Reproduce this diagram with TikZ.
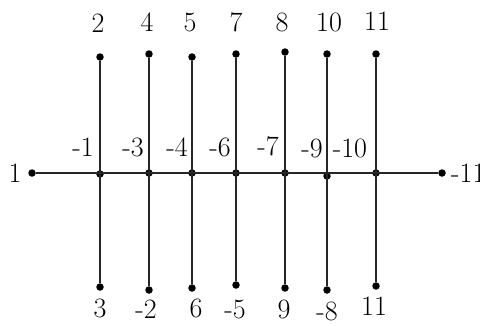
\documentclass[tikz,border=0pt]{standalone}
\begin{document}
\begin{tikzpicture}[x=1pt,y=-1pt,
  dot/.style={circle,fill=black,inner sep=0pt,minimum size=7.5pt},
  lbl/.style={inner sep=0pt,font=\fontsize{28}{32}\selectfont},
  edge/.style={line width=2pt,black!85}]
\useasboundingbox (0,0) rectangle (480,325);
% horizontal line
\node[dot] (L) at (32,173) {};
\node[dot] (R) at (442,173) {};
\node[dot] (c1) at (100,174) {};
\node[dot] (c2) at (149,173) {};
\node[dot] (c3) at (192,173) {};
\node[dot] (c4) at (236,173) {};
\node[dot] (c5) at (285,173) {};
\node[dot] (c6) at (327,176) {};
\node[dot] (c7) at (376,173) {};
% top dots
\node[dot] (t1) at (100,57) {};
\node[dot] (t2) at (149,54) {};
\node[dot] (t3) at (192,57) {};
\node[dot] (t4) at (236,54) {};
\node[dot] (t5) at (285,52) {};
\node[dot] (t6) at (327,54) {};
\node[dot] (t7) at (376,54) {};
% bottom dots
\node[dot] (b1) at (100,287) {};
\node[dot] (b2) at (149,290) {};
\node[dot] (b3) at (192,288) {};
\node[dot] (b4) at (236,285) {};
\node[dot] (b5) at (285,288) {};
\node[dot] (b6) at (327,290) {};
\node[dot] (b7) at (376,286) {};
% edges
\draw[edge] (L) -- (R);
\foreach \i in {1,...,7} {\draw[edge] (t\i) -- (b\i);}
% labels
\node[lbl] (lL) at (15,173) {1};
\node[lbl,anchor=west] (lR) at (451,173) {-11};
\node[lbl] (lt1) at (98,23) {2};
\node[lbl] (lt2) at (147,22) {4};
\node[lbl] (lt3) at (190,22) {5};
\node[lbl] (lt4) at (236,22) {7};
\node[lbl] (lt5) at (282,22) {8};
\node[lbl] (lt6) at (329,22) {10};
\node[lbl] (lt7) at (377,21) {11};
\node[lbl] (lb1) at (100,308) {3};
\node[lbl] (lb2) at (146,309) {-2};
\node[lbl] (lb3) at (196,308) {6};
\node[lbl] (lb4) at (235,309) {-5};
\node[lbl] (lb5) at (284,309) {9};
\node[lbl] (lb6) at (327,311) {-8};
\node[lbl] (lb7) at (374,306) {11};
\node[lbl] (lm1) at (83,147) {-1};
\node[lbl] (lm2) at (133,147) {-3};
\node[lbl] (lm3) at (177,147) {-4};
\node[lbl] (lm4) at (220,147) {-6};
\node[lbl] (lm5) at (268,146) {-7};
\node[lbl] (lm6) at (312,148) {-9};
\node[lbl] (lm7) at (350,148) {-10};
\end{tikzpicture}
\end{document}
